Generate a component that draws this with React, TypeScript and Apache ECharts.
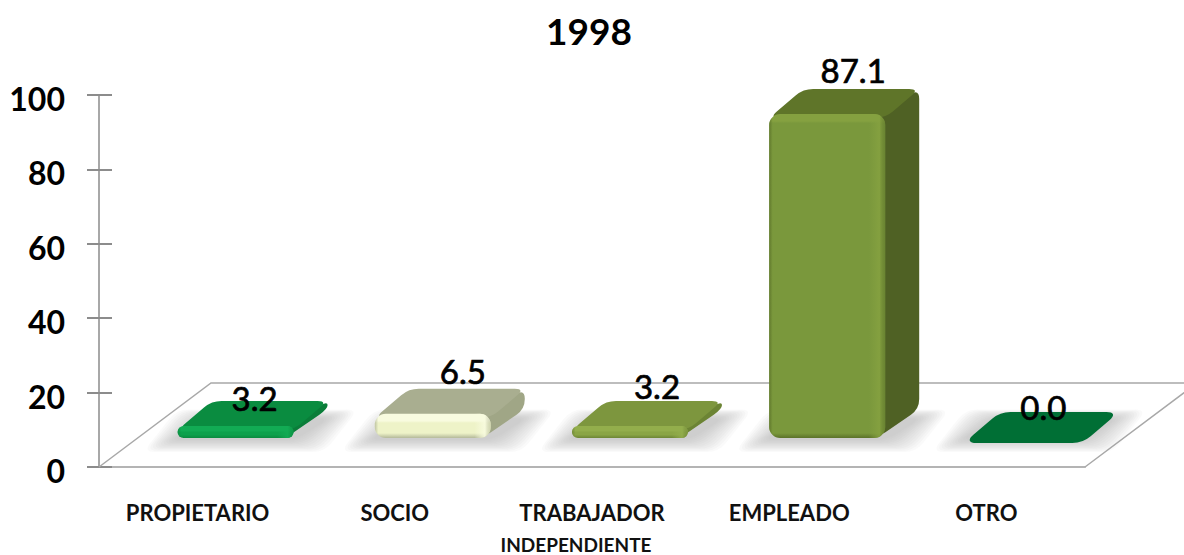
import React, { useEffect, useRef } from "react";
import * as echarts from "echarts";

const titleText = "1998";
const categories = ["PROPIETARIO", "SOCIO", "TRABAJADOR\nINDEPENDIENTE", "EMPLEADO", "OTRO"];
const values = [3.2, 6.5, 3.2, 87.1, 0.0];
const yTicks = [0, 20, 40, 60, 80, 100];

// Styling only: one colour set per bar, and each data label's hand-placed offset.
const barPalette = [
  { front: "#0da14c", hi: "#12ab54", edge: "#0b8a3f", top: "#0a8c40", side: "#0a7d39" },
  { front: "#eef3c8", hi: "#f8fbdf", edge: "#b4b99a", top: "#a9ae90", side: "#a0a686" },
  { front: "#8aa545", hi: "#93ae4c", edge: "#6d8535", top: "#7d963e", side: "#6c8434" },
  { front: "#7a983c", hi: "#85a140", edge: "#5b7229", top: "#5f7529", side: "#4f6124" },
  { front: "#006f35", hi: "#006f35", edge: "#006f35", top: "#006f35", side: "#006f35" },
];
const labelOffsets = [
  [57, -28],
  [68, -43],
  [65, -40],
  [64, -44],
  [57, -31],
];

const FLOOR_DX = 112;
const FLOOR_DY = 84;
const BASE_DX = 38;
const BASE_DY = 29;
const BAR_W = 116;
const DEPTH_X = 34;
const DEPTH_Y = 25;
const GREY = "#a8a8a8";
const SHADOW_LAYERS = 12;

function rgba(hex: string, a: number): string {
  const n = parseInt(hex.slice(1), 16);
  return `rgba(${(n >> 16) & 255},${(n >> 8) & 255},${n & 255},${a})`;
}

function roundPoly(pts: number[][], r: number): string {
  const n = pts.length;
  let d = "";
  for (let i = 0; i < n; i++) {
    const p = pts[i];
    const a = pts[(i + n - 1) % n];
    const b = pts[(i + 1) % n];
    const la = Math.hypot(a[0] - p[0], a[1] - p[1]) || 1;
    const lb = Math.hypot(b[0] - p[0], b[1] - p[1]) || 1;
    const ra = Math.min(r, la / 2);
    const rb = Math.min(r, lb / 2);
    const s = [p[0] + ((a[0] - p[0]) / la) * ra, p[1] + ((a[1] - p[1]) / la) * ra];
    const e = [p[0] + ((b[0] - p[0]) / lb) * rb, p[1] + ((b[1] - p[1]) / lb) * rb];
    d += `${i === 0 ? "M" : "L"}${s[0]} ${s[1]}Q${p[0]} ${p[1]} ${e[0]} ${e[1]}`;
  }
  return d + "Z";
}

function poly(pts: number[][], r: number, style: any) {
  return { type: "path", shape: { pathData: roundPoly(pts, r) }, style };
}

function renderFloor(params: any, api: any) {
  const g = params.coordSys;
  const yb = g.y + g.height;
  const x0 = g.x;
  const x1 = g.x + g.width;
  return {
    type: "polyline",
    shape: {
      points: [
        [x0, yb],
        [x0 + FLOOR_DX, yb - FLOOR_DY],
        [x1 + FLOOR_DX, yb - FLOOR_DY],
        [x1, yb],
      ],
    },
    style: { stroke: GREY, lineWidth: 1.5, fill: null },
  };
}

function renderShadow(params: any, api: any) {
  const i = api.value(0);
  const c = api.coord([i, 0]);
  const L = c[0] + BASE_DX - BAR_W / 2;
  const R = L + BAR_W;
  const yB = c[1] - BASE_DY;
  const children: any[] = [];
  for (let k = 0; k < SHADOW_LAYERS; k++) {
    const g = k * 2.6;
    children.push(
      poly(
        [
          [L - 6 - g, yB + 2 + g * 0.42],
          [R + 2 + g, yB + 2 + g * 0.42],
          [R + DEPTH_X + 2 + g, yB - 20 - g * 0.3],
          [L + DEPTH_X - 6 - g, yB - 20 - g * 0.3],
        ],
        12,
        { fill: "rgba(150,150,152,0.052)" },
      ),
    );
  }
  return { type: "group", children };
}

function renderBar(params: any, api: any) {
  const i = api.value(0);
  const v = api.value(1);
  const p = barPalette[i];
  const c = api.coord([i, 0]);
  const yTopRaw = api.coord([i, v])[1];
  const L = c[0] + BASE_DX - BAR_W / 2;
  const R = L + BAR_W;
  const yB = c[1] - BASE_DY;
  const yT = yTopRaw - BASE_DY;
  const h = yB - yT;
  const children: any[] = [];

  if (h > 0.5) {
    children.push(
      poly(
        [
          [R - 8, yT],
          [R + DEPTH_X, yT - DEPTH_Y],
          [R + DEPTH_X, yB - DEPTH_Y - 4],
          [R - 8, yB],
        ],
        10,
        { fill: p.side },
      ),
    );
  }
  children.push(
    poly(
      [
        [L, yT + 4],
        [R, yT + 4],
        [R + DEPTH_X, yT - DEPTH_Y],
        [L + DEPTH_X, yT - DEPTH_Y],
      ],
      10,
      { fill: p.top, stroke: h > 0.5 ? "none" : p.top, lineWidth: 2 },
    ),
  );
  if (h > 0.5) {
    const bevel = Math.min(7 / h, 0.4);
    const radius = Math.min(11, h / 2);
    children.push({
      type: "rect",
      shape: { x: L, y: yT, width: BAR_W, height: h, r: radius },
      style: {
        fill: new echarts.graphic.LinearGradient(0, 0, 0, 1, [
          { offset: 0, color: p.hi },
          { offset: bevel, color: p.hi },
          { offset: Math.min(bevel * 1.3, 0.5), color: p.front },
          { offset: 1 - bevel * 0.7, color: p.front },
          { offset: 1, color: p.edge },
        ]),
      },
    });
    children.push({
      type: "rect",
      shape: { x: L, y: yT, width: BAR_W, height: h, r: radius },
      style: {
        fill: new echarts.graphic.LinearGradient(0, 0, 1, 0, [
          { offset: 0, color: rgba(p.edge, 0.8) },
          { offset: 0.03, color: rgba(p.edge, 0) },
          { offset: 0.86, color: rgba(p.hi, 0) },
          { offset: 0.95, color: rgba(p.hi, 0.9) },
          { offset: 1, color: rgba(p.edge, 0.5) },
        ]),
      },
    });
  }
  const off = labelOffsets[i];
  children.push({
    type: "text",
    style: {
      text: v.toFixed(1),
      x: c[0] + off[0],
      y: yT + off[1],
      align: "center",
      verticalAlign: "middle",
      fontFamily: "Lato",
      fontWeight: 400,
      fontSize: 33,
      fill: "#000",
      stroke: "#000",
      lineWidth: 0.7,
    },
  });
  return { type: "group", children };
}

export default function App() {
  const ref = useRef<HTMLDivElement>(null);
  useEffect(() => {
    const chart = echarts.init(ref.current!, null, { renderer: "svg" });
    const seriesData = values.map((v, i) => [i, v]);
    chart.setOption({
      animation: false,
      backgroundColor: "#fff",
      title: {
        text: titleText,
        left: 584,
        top: 7,
        textAlign: "center",
        textStyle: { fontFamily: "Lato", fontWeight: "bold", fontSize: 37, color: "#000" },
      },
      grid: { left: 99, right: 99, top: 95, bottom: 88 },
      xAxis: {
        type: "category",
        data: categories,
        axisTick: { show: false },
        axisLine: { lineStyle: { color: "#b4b4b4", width: 2 } },
        axisLabel: {
          margin: 22,
          interval: 0,
          formatter: (s: string) => {
            const parts = s.split("\n");
            return parts.length > 1 ? `{a|${parts[0]}}\n{b|${parts[1]}}` : `{a|${s}}`;
          },
          rich: {
            a: { fontFamily: "Lato", fontWeight: "bold", fontSize: 22, color: "#111", lineHeight: 46 },
            b: {
              fontFamily: "Lato",
              fontWeight: "bold",
              fontSize: 19,
              color: "#111",
              lineHeight: 18,
              padding: [0, 32, 0, 0],
            },
          },
        },
      },
      yAxis: [
        {
          type: "value",
          min: yTicks[0],
          max: yTicks[yTicks.length - 1],
          interval: yTicks[1] - yTicks[0],
          splitLine: { show: false },
          axisLine: { show: true, lineStyle: { color: GREY, width: 2 } },
          axisTick: { show: true, length: 12, lineStyle: { color: "#8c8c8c", width: 2 } },
          axisLabel: {
            margin: 34,
            formatter: "{v|{value}}",
            rich: {
              v: {
                fontFamily: "Lato",
                fontWeight: "bold",
                fontSize: 32,
                color: "#000",
                padding: [7, 0, 0, 0],
              },
            },
          },
        },
        {
          type: "value",
          position: "left",
          min: yTicks[0],
          max: yTicks[yTicks.length - 1],
          interval: yTicks[1] - yTicks[0],
          splitLine: { show: false },
          axisLine: { show: false },
          axisTick: { show: true, inside: true, length: 13, lineStyle: { color: "#8c8c8c", width: 2 } },
          axisLabel: { show: false },
        },
      ],
      series: [
        { type: "custom", name: "floor", renderItem: renderFloor, data: [[0, 0]], clip: false, z: 1, silent: true },
        { type: "custom", name: "shadow", renderItem: renderShadow, data: seriesData, clip: false, z: 2, silent: true },
        {
          type: "custom",
          name: "1998",
          renderItem: renderBar,
          data: seriesData,
          encode: { x: 0, y: 1 },
          clip: false,
          z: 3,
        },
      ],
    });
    return () => chart.dispose();
  }, []);
  return <div ref={ref} style={{ position: "fixed", left: 0, top: 0, width: 1184, height: 555 }} />;
}
